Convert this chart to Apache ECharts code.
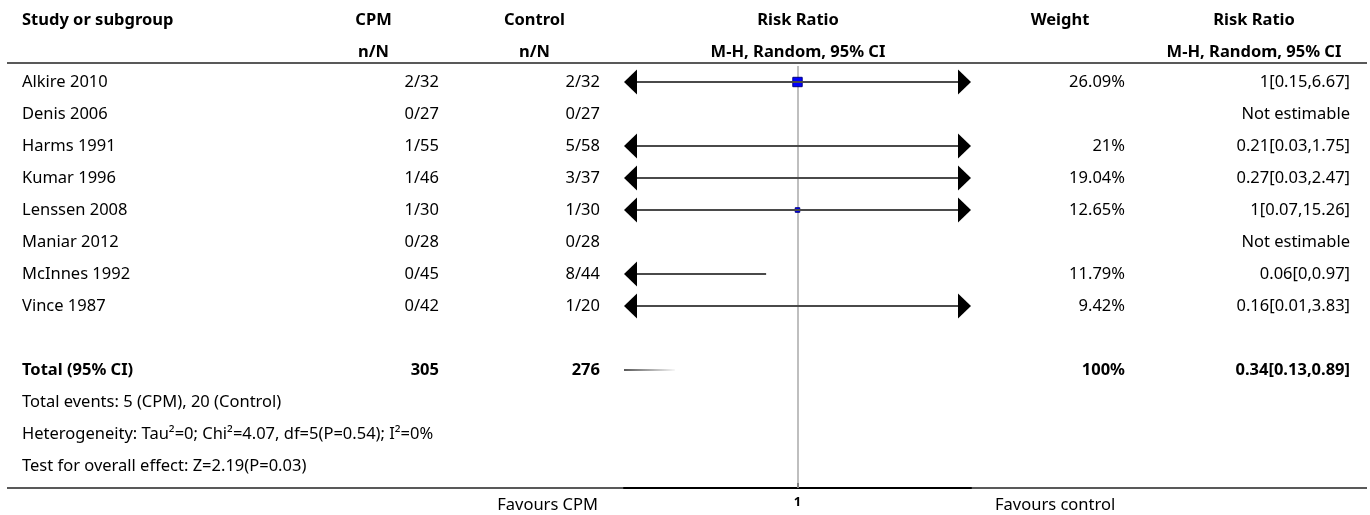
<!DOCTYPE html>
<html><head><meta charset="utf-8">
<script src="https://cdn.jsdelivr.net/npm/echarts@6/dist/echarts.min.js"></script>
<style>html,body{margin:0;padding:0;background:#fff}#c{width:1370px;height:515px}</style>
</head><body><div id="c"></div>
<script>
// ---------- data ----------
const studies = ['Alkire 2010','Denis 2006','Harms 1991','Kumar 1996','Lenssen 2008','Maniar 2012','McInnes 1992','Vince 1987'];
const cpmEvents = ['2/32','0/27','1/55','1/46','1/30','0/28','0/45','0/42'];
const controlEvents = ['2/32','0/27','5/58','3/37','1/30','0/28','8/44','1/20'];
const weights = [26.09, null, 21, 19.04, 12.65, null, 11.79, 9.42];
const riskRatio = [1, null, 0.21, 0.27, 1, null, 0.06, 0.16];
const ciLower = [0.15, null, 0.03, 0.03, 0.07, null, 0, 0.01];
const ciUpper = [6.67, null, 1.75, 2.47, 15.26, null, 0.97, 3.83];
const totalLabel = 'Total (95% CI)';
const totalN = ['305', '276'];
const totalWeight = 100;
const totalRR = [0.34, 0.13, 0.89];
const footerLines = ['Total events: 5 (CPM), 20 (Control)',
  'Heterogeneity: Tau\u00b2=0; Chi\u00b2=4.07, df=5(P=0.54); I\u00b2=0%',
  'Test for overall effect: Z=2.19(P=0.03)'];
const headerRow1 = ['Study or subgroup','CPM','Control','Risk Ratio','Weight','Risk Ratio'];
const headerRow2 = ['', 'n/N','n/N','M-H, Random, 95% CI','','M-H, Random, 95% CI'];
const axisTickLabels = ['1'];
const favoursLabels = ['Favours CPM','Favours control'];

// ---------- layout ----------
const FAM = '"Noto Sans", sans-serif';
const FS = 16.5;
const fontR = FS + 'px ' + FAM;
const fontB = 'bold ' + FS + 'px ' + FAM;
const L = Math.log10;
const AX_MIN = L(0.845), AX_MAX = -AX_MIN;
const ROW_TOTAL = 9, ROW_FOOT = 10;
const X_STUDY = 22, X_CPM = 439, X_CTRL = 600, X_W = 1125, X_RR = 1350;
const HDR_X = [22, 373.5, 534.5, 798, 1060, 1254];
const AW = 13, AH = 12.5;

function fmtRR(r, lo, hi){ return r == null ? 'Not estimable' : r + '[' + lo + ',' + hi + ']'; }

function txt(text, x, y, align, font){
  return {type:'text', style:{text:text, x:x, y:y, align:align, verticalAlign:'middle', font:font, fill:'#000'}};
}

function renderTable(params, api){
  const r = params.dataIndex; // row index
  const y = api.coord([0, r])[1];
  const ch = [];
  if (r < studies.length){
    ch.push(txt(studies[r], X_STUDY, y, 'left', fontR));
    ch.push(txt(cpmEvents[r], X_CPM, y, 'right', fontR));
    ch.push(txt(controlEvents[r], X_CTRL, y, 'right', fontR));
    if (weights[r] != null) ch.push(txt(weights[r] + '%', X_W, y, 'right', fontR));
    ch.push(txt(fmtRR(riskRatio[r], ciLower[r], ciUpper[r]), X_RR, y, 'right', fontR));
  } else if (r === ROW_TOTAL){
    ch.push(txt(totalLabel, X_STUDY, y, 'left', fontB));
    ch.push(txt(totalN[0], X_CPM, y, 'right', fontB));
    ch.push(txt(totalN[1], X_CTRL, y, 'right', fontB));
    ch.push(txt(totalWeight + '%', X_W, y, 'right', fontB));
    ch.push(txt(fmtRR(totalRR[0], totalRR[1], totalRR[2]), X_RR, y, 'right', fontB));
  } else if (r >= ROW_FOOT){
    ch.push(txt(footerLines[r - ROW_FOOT], X_STUDY, y, 'left', fontR));
  }
  return {type:'group', children:ch};
}

function renderCI(params, api){
  const i = params.dataIndex;
  if (riskRatio[i] == null) return null;
  const y = api.coord([0, i])[1];
  const xl = api.coord([AX_MIN, i])[0], xr = api.coord([AX_MAX, i])[0];
  const lo = ciLower[i] > 0 ? L(ciLower[i]) : -Infinity;
  const hi = L(ciUpper[i]);
  const pt = L(riskRatio[i]);
  const leftArrow = lo < AX_MIN, rightArrow = hi > AX_MAX;
  const x0 = leftArrow ? xl + AW : api.coord([lo, i])[0];
  const x1 = rightArrow ? xr - AW : api.coord([hi, i])[0];
  const ch = [];
  if (pt >= AX_MIN && pt <= AX_MAX){
    const s = weights[i] * 0.36;
    const px = api.coord([pt, i])[0];
    ch.push({type:'rect', shape:{x:px - s/2, y:y - s/2, width:s, height:s}, style:{fill:'#0000ff', stroke:'#000080', lineWidth:1}});
  }
  ch.push({type:'line', shape:{x1:x0, y1:y, x2:x1, y2:y}, style:{stroke:'#4a4a4a', lineWidth:2}});
  if (leftArrow) ch.push({type:'polygon', shape:{points:[[xl, y], [xl + AW, y - AH], [xl + AW, y + AH]]}, style:{fill:'#000'}});
  if (rightArrow) ch.push({type:'polygon', shape:{points:[[xr, y], [xr - AW, y - AH], [xr - AW, y + AH]]}, style:{fill:'#000'}});
  return {type:'group', children:ch};
}

function renderDiamond(params, api){
  const y = api.coord([0, ROW_TOTAL])[1];
  const p = api.coord([L(totalRR[0]), ROW_TOTAL])[0];
  const a = api.coord([L(totalRR[1]), ROW_TOTAL])[0];
  const b = api.coord([L(totalRR[2]), ROW_TOTAL])[0];
  const h = 14;
  return {type:'polygon', shape:{points:[[a, y], [p, y - h], [b, y], [p, y + h]]}, style:{fill:'#222'}};
}

const graphics = [];
headerRow1.forEach((t, k) => graphics.push({type:'text', x:HDR_X[k], y:20, style:{text:t, align:k === 0 ? 'left' : 'center', verticalAlign:'middle', font:fontB, fill:'#000'}}));
headerRow2.forEach((t, k) => { if (t) graphics.push({type:'text', x:HDR_X[k], y:52, style:{text:t, align:'center', verticalAlign:'middle', font:fontB, fill:'#000'}}); });
graphics.push({type:'line', shape:{x1:7, y1:63, x2:1367, y2:63}, style:{stroke:'#222', lineWidth:1.5}});
graphics.push({type:'line', shape:{x1:7, y1:488, x2:1367, y2:488}, style:{stroke:'#222', lineWidth:1.5}, z:-1});
graphics.push({type:'text', x:598, y:505, style:{text:favoursLabels[0], align:'right', verticalAlign:'middle', font:fontR, fill:'#000'}});
graphics.push({type:'text', x:995, y:505, style:{text:favoursLabels[1], align:'left', verticalAlign:'middle', font:fontR, fill:'#000'}});

const rowIdx = [];
for (let r = 0; r <= ROW_FOOT + footerLines.length - 1; r++) rowIdx.push([0, r]);

const chart = echarts.init(document.getElementById('c'), null, {renderer:'canvas'});
chart.setOption({
  animation:false,
  backgroundColor:'#fff',
  grid:{left:624, right:399, top:66, bottom:27},
  xAxis:{type:'value', min:AX_MIN, max:AX_MAX, splitLine:{show:false},
    axisLine:{show:true, onZero:false, lineStyle:{color:'#000', width:2}},
    axisTick:{show:true, inside:true, length:5, customValues:[0], lineStyle:{color:'#000', width:2}},
    axisLabel:{show:true, customValues:[0], formatter:() => axisTickLabels[0], margin:8, fontSize:13, fontWeight:'bold', fontFamily:FAM, color:'#000'}},
  yAxis:{type:'value', inverse:true, min:-0.5, max:12.6875, show:false},
  graphic:graphics,
  series:[
    {type:'custom', name:'ci', renderItem:renderCI, data:studies.map((s, i) => [0, i]), z:3,
      markLine:{silent:true, symbol:'none', label:{show:false}, lineStyle:{color:'#aaaaaa', width:1.5, type:'solid'}, data:[{xAxis:0}], z:2}},
    {type:'custom', name:'diamond', renderItem:renderDiamond, data:[[0, ROW_TOTAL]], clip:true, z:3},
    {type:'custom', name:'table', renderItem:renderTable, data:rowIdx, clip:false, z:4}
  ]
});
</script>
</body></html>
